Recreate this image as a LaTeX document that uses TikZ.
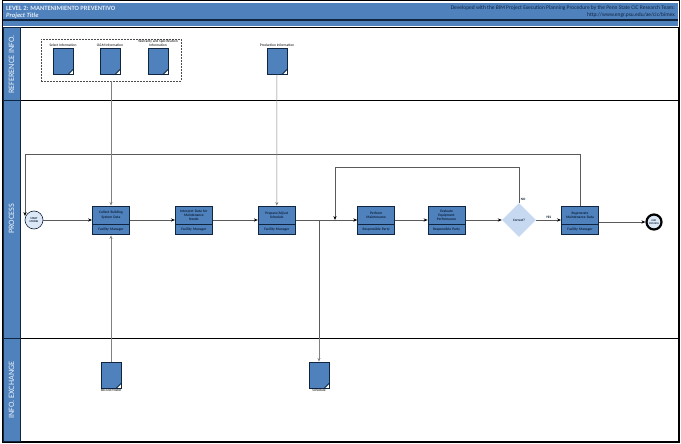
\documentclass[tikz,border=0pt]{standalone}
\usepackage{fontspec}
\setmainfont{Carlito}
\usetikzlibrary{arrows.meta, positioning, shapes.geometric}
\definecolor{laneblue}{HTML}{4F81BD}
\definecolor{navyline}{HTML}{10253F}
\definecolor{paleblue}{HTML}{C6D9F1}
\definecolor{flowgray}{HTML}{5A5A5A}
\begin{document}
\begin{tikzpicture}[x=1pt, y=-1pt, >=Stealth, node distance=45pt]
        \tikzset{
            lanebox/.style={draw=black, line width=0.9pt, fill=white},
            lanebar/.style={draw=navyline, line width=0.7pt, fill=laneblue},
            lanelabel/.style={rotate=90, text=white!90!laneblue, font=\fontsize{8.2}{9}\selectfont},
            taskbox/.style={draw=navyline, fill=laneblue, line width=0.9pt, text=navyline, align=center, inner sep=0pt, minimum width=37pt, minimum height=18pt, text width=35pt, font=\fontsize{3.6}{4.1}\selectfont\bfseries},
            rolebox/.style={taskbox, minimum height=10pt},
            docnode/.style={draw=navyline, fill=laneblue, line width=0.9pt, minimum width=20pt, minimum height=26pt, inner sep=0pt, path picture={
                \fill[white] (path picture bounding box.south east) -- ++(-4.5pt,0pt) -- ++(4.5pt,4.5pt) -- cycle;
                \draw[navyline, line width=0.9pt] ([xshift=-4.5pt]path picture bounding box.south east) -- ([yshift=4.5pt]path picture bounding box.south east);}},
            docnote/.style={font=\fontsize{3.6}{3.9}\selectfont, align=center, inner sep=0.6pt, text=black},
            flow/.style={->, draw=flowgray, line width=0.7pt, >={Stealth[length=4pt, width=3.2pt, black]}},
            infoline/.style={draw=gray, line width=0.5pt},
            infoarrow/.style={infoline, ->, >={Stealth[length=3.5pt, width=3pt, gray]}},
            notetext/.style={font=\fontsize{3.4}{4}\selectfont\bfseries, text=navyline, inner sep=0.5pt}
        }

        \useasboundingbox (0,0) rectangle (681,444);
        \fill[white] (0,0) rectangle (681,444);

        % swim lanes
        \draw[black, line width=1pt] (2,1) rectangle (679,442);
        \fill[laneblue] (3,3) rectangle (678,26);
        \fill[navyline] (3,19) rectangle (678,21.5);
        \draw[lanebox] (20,27) rectangle (678,100);
        \draw[lanebox] (20,100) rectangle (678,338);
        \draw[lanebox] (20,338) rectangle (678,441);
        \draw[lanebar] (3,27) rectangle (20,100);
        \draw[lanebar] (3,100) rectangle (20,338);
        \draw[lanebar] (3,338) rectangle (20,441);

        % header
        \node[anchor=west, inner sep=0pt, text=white!85!laneblue, font=\fontsize{6.5}{7}\selectfont\bfseries] (level) at (6,8) {LEVEL 2: MANTENIMIENTO PREVENTIVO};
        \node[anchor=west, inner sep=0pt, text=white!85!laneblue, font=\fontsize{6.5}{7}\selectfont\bfseries\itshape] (project) at (6,16) {Project Title};
        \node[anchor=north east, inner sep=0pt, align=right, text=navyline, font=\fontsize{5.5}{7.4}\selectfont] (credit) at (675,5) {Developed with the BIM Project Execution Planning Procedure by the Penn State CIC Research Team:\\http://www.engr.psu.edu/ae/cic/bimex};

        \node[lanelabel] (ref_label) at (11.5,64.5) {REFERENCE INFO.};
        \node[lanelabel] (process_label) at (11.5,219) {PROCESS};
        \node[lanelabel] (exchange_label) at (11.5,390) {INFO. EXCHANGE};

        % reference documents
        \node[draw=black!70, dashed, line width=0.6pt, dash pattern=on 2pt off 1pt, minimum width=140pt, minimum height=42pt, inner sep=0pt] (infoset) at (111,60) {};
        \node[docnode, label={[docnote]above:Select Information}] (selectdoc) at (63,61) {};
        \node[docnode, label={[docnote]above:O\&M Information}] (omdoc) at (110,61) {};
        \node[docnode, label={[docnote]above:Warranty and Specification\\Information}] (warrantydoc) at (158,61) {};
        \node[docnode, label={[docnote]above:Production Information}] (productiondoc) at (277,61) {};

        % process
        \node[circle, draw=navyline, fill=paleblue!60!white, line width=0.6pt, minimum size=18pt, inner sep=0pt, align=center, font=\fontsize{2.8}{3.2}\selectfont\bfseries, text=navyline] (start) at (34,220) {START\\MODEL};
        \node[taskbox] (collect) at (111,215) {Collect Building\\System Data};
        \node[rolebox, below=0pt of collect] (collect_role) {Facility Manager};
        \node[taskbox, right=of collect] (interpret) {Interpret Data for\\Maintenance\\Needs};
        \node[rolebox, below=0pt of interpret] (interpret_role) {Facility Manager};
        \node[taskbox, right=of interpret] (prepare) {Prepare/Adjust\\Schedule};
        \node[rolebox, below=0pt of prepare] (prepare_role) {Facility Manager};
        \node[taskbox, right=61.5pt of prepare] (perform) {Perform\\Maintenance};
        \node[rolebox, below=0pt of perform] (perform_role) {Responsible Party};
        \node[taskbox, right=32.5pt of perform] (evaluate) {Evaluate\\Equipment\\Performance};
        \node[rolebox, below=0pt of evaluate] (evaluate_role) {Responsible Party};
        \node[diamond, fill=paleblue, minimum size=34pt, inner sep=0pt, font=\fontsize{3.4}{4}\selectfont\bfseries, text=navyline] (correct) at (519,220) {Correct?};
        \node[taskbox] (regen) at (580,215) {Regenerate\\Maintenance Data};
        \node[rolebox, below=0pt of regen] (regen_role) {Facility Manager};
        \node[circle, draw=black, fill=paleblue!60!white, line width=2.2pt, minimum size=15pt, inner sep=0pt, align=center, font=\fontsize{2.6}{3}\selectfont\bfseries, text=navyline] (finish) at (654,222) {END\\PROCESS};

        % info exchange documents
        \node[docnode, label={[docnote]below:Record Model}] (recorddoc) at (111,375) {};
        \node[docnode, label={[docnote]below:Schedule}] (scheduledoc) at (319,375) {};

        \coordinate (split) at (319,220);
        \coordinate (merge) at (335,220);

        \draw[flow] (start) -- (start -| collect.west);
        \draw[flow] (collect.east |- start) -- (interpret.west |- start);
        \draw[flow] (interpret.east |- start) -- (prepare.west |- start);
        \draw[flow] (prepare.east |- start) -- (perform.west |- start);
        \draw[flow] (perform.east |- start) -- (evaluate.west |- start);
        \draw[flow] (evaluate.east |- start) -- (correct.west);
        \draw[flow] (correct.east) -- node[notetext, above, yshift=1pt] {YES} (regen.west |- start);
        \draw[flow] (regen.east |- finish) -- (finish.west);
        \draw[flow] (correct.north) -- node[notetext, pos=0.1, right, xshift=1pt] {NO} (519,167) -- (335,167) -- (merge);
        \draw[flow] (regen.north) -- (580,154) -- (25,154) -- (25,216);
        \draw[infoline, line width=0.6pt, draw=flowgray] (split) -- (319,338);
        \draw[infoarrow] (319,338) -- (scheduledoc.north);
        \draw[infoarrow] (infoset.south -| collect.north) -- (collect.north);
        \draw[infoarrow] (productiondoc.south) -- (prepare.north);
        \draw[infoarrow] (recorddoc.north) -- (collect_role.south);
    \end{tikzpicture}
\end{document}
